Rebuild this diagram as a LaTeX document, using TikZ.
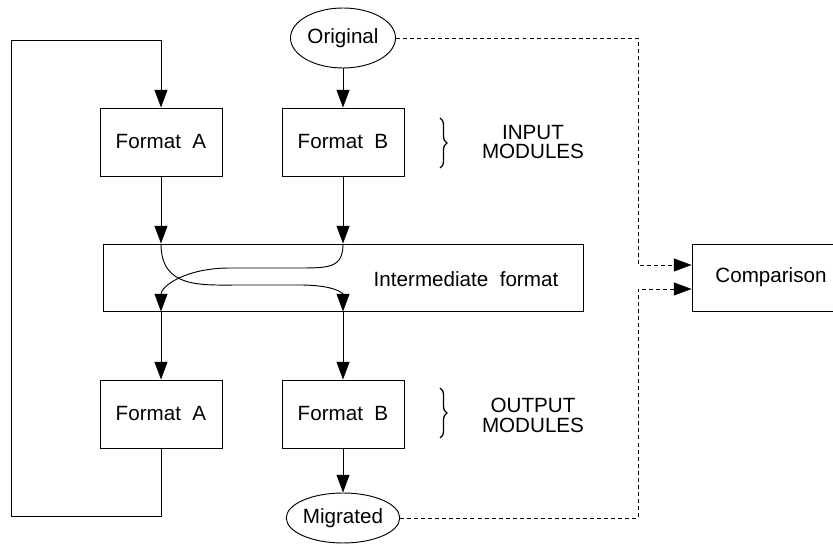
\documentclass[tikz,border=0pt]{standalone}
\usepackage{fontspec}
\setmainfont{Liberation Sans}
\usetikzlibrary{arrows.meta,shapes.geometric,decorations.pathreplacing}

\begin{document}
\begin{tikzpicture}[x=0.03cm, y=-0.03cm, line width=0.8pt,
    >={Triangle[length=15pt,width=11pt]},
    font=\fontsize{17.6}{17}\selectfont]
    \useasboundingbox (0,0) rectangle (833,545);

    \begin{scope}[every node/.style={ellipse, draw, inner sep=0pt, minimum width=3.15cm}]
        \node[minimum height=1.8cm] (orig) at (343,38) {Original};
        \node[minimum height=1.5cm] (mig) at (343,518) {Migrated};
    \end{scope}

    \begin{scope}[every node/.style={rectangle, draw, minimum width=3.66cm, minimum height=2.04cm}]
        \node (inA) at (161,142) {Format~~A};
        \node (inB) at (343,142) {Format~~B};
        \node (outA) at (161,414) {Format~~A};
        \node (outB) at (343,414) {Format~~B};
        \node[minimum width=14.4cm, minimum height=2.01cm] (inter) at (343,277.5) {};
        \node[minimum width=4.74cm, minimum height=2.01cm] (comp) at (771,277.5) {Comparison};
    \end{scope}

    \node (interlbl) at (466,279) {Intermediate~~format};
    \node[align=center] (inlbl) at (533,142) {INPUT\\MODULES};
    \node[align=center] (outlbl) at (533,415) {OUTPUT\\MODULES};

    \begin{scope}[line width=1.1pt, decoration={brace, amplitude=6pt}]
        \draw[decorate] (440,118) -- (440,168);
        \draw[decorate] (440,388) -- (440,438);
    \end{scope}

    \coordinate (looptl) at (11,40);
    \coordinate (loopbl) at (11,516);
    \coordinate (busA) at (638,265);
    \coordinate (busB) at (638,289);

    \begin{scope}[every edge/.style={draw, ->}]
        \path (orig) edge (inB);
        \path (inA) edge (inA.south |- inter.north);
        \path (inB) edge (inB.south |- inter.north);
        \path (inter.south -| outA) edge (outA);
        \path (inter.south -| outB) edge (outB);
        \path (outB) edge (mig);
    \end{scope}

    % crossing inside the intermediate format
    \draw[->] (inA.south |- inter.north) .. controls +(0,45) and +(-40,0) .. (240,285)
        -- (300,285) .. controls +(35,0) and +(0,-18) .. (inB.south |- inter.south);
    \draw[->] (inB.south |- inter.north) .. controls +(0,24) and +(30,0) .. (300,268)
        -- (230,268) .. controls +(-45,0) and +(0,-25) .. (inA.south |- inter.south);

    % feedback loop
    \draw[->] (outA.south) |- (loopbl) -- (looptl) -| (inA.north);

    \begin{scope}[dash pattern=on 3.4pt off 2.6pt]
        \draw[->] (orig.east) -| (busA) -- (busA -| comp.west);
        \draw[->] (mig.east) -| (busB) -- (busB -| comp.west);
    \end{scope}
\end{tikzpicture}
\end{document}
